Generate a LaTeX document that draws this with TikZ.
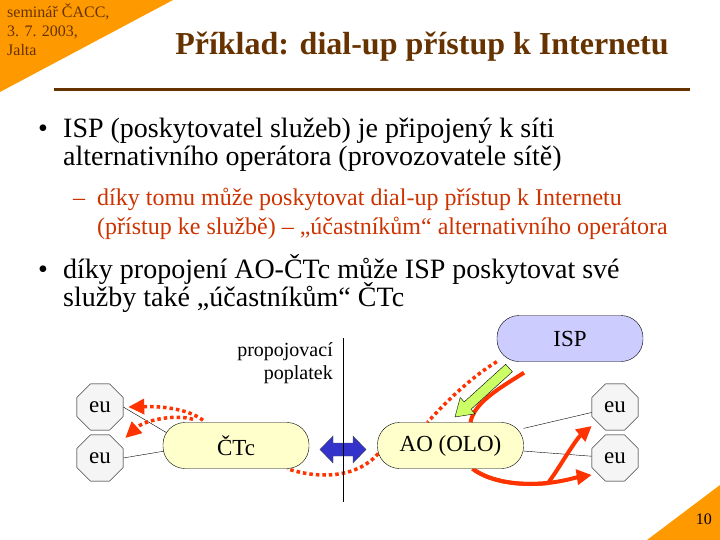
\documentclass[tikz,border=0pt]{standalone}
\usepackage{fontspec}
\setmainfont{Liberation Serif}
\usetikzlibrary{shapes.geometric, arrows.meta, backgrounds, calc}
\definecolor{slidebrown}{RGB}{102, 51, 0}
\definecolor{slideorange}{RGB}{255, 153, 0}
\definecolor{subred}{RGB}{204, 51, 0}
\definecolor{flowred}{RGB}{255, 51, 0}
\definecolor{ispblue}{RGB}{204, 204, 255}
\definecolor{netyellow}{RGB}{255, 255, 204}
\definecolor{eugray}{RGB}{245, 245, 245}
\definecolor{linkblue}{RGB}{51, 51, 204}
\definecolor{hintgreen}{RGB}{204, 255, 102}
\tikzset{
    corner/.style={font=\fontsize{16}{19}\selectfont, text=slidebrown, anchor=base west, inner sep=0},
    maintext/.style={font=\fontsize{28}{32}\selectfont, anchor=base west, inner sep=0},
    subtext/.style={font=\fontsize{24}{28}\selectfont, text=subred, anchor=base west, inner sep=0},
    pill/.style={rectangle, draw, thin, rounded corners=22pt, minimum width=146pt, minimum height=46pt, font=\fontsize{23}{26}\selectfont},
    enduser/.style={regular polygon, regular polygon sides=8, draw, thin, fill=eugray, minimum size=50pt, inner sep=0, font=\fontsize{23}{26}\selectfont},
    flowdot/.style={flowred, line width=3.5pt, dash pattern=on 3.5pt off 3pt},
    flowline/.style={flowred, line width=4pt},
    tip/.style={-{Triangle[length=15pt, width=15pt]}}
}
\begin{document}
\begin{tikzpicture}[x=1pt, y=-1pt]
    \useasboundingbox (0,0) rectangle (720,540);
    \fill[slideorange] (0,0) -- (173,0) -- (0,92) -- cycle;
    \fill[slideorange] (647,540) -- (720,485) -- (720,540) -- cycle;

    \node (place) [corner] at (7,18) {seminář ČACC,};
    \node (date) [corner] at (7,37) {3. 7. 2003,};
    \node (town) [corner] at (7,56) {Jalta};
    \node (page) [font=\fontsize{16}{19}\selectfont, anchor=base east, inner sep=0] at (712,524) {10};

    \node (title) [font=\fontsize{32}{36}\selectfont\bfseries, text=slidebrown, anchor=base, inner sep=0] at (422,55) {Příklad: dial-up přístup k Internetu};
    \draw[slidebrown, line width=3pt] (54,90) -- (690,90);

    \node (dot1) [maintext] at (38,138) {•};
    \node (isp1) [maintext] at (63,138) {ISP (poskytovatel služeb) je připojený k síti};
    \node (isp2) [maintext] at (63,166) {alternativního operátora (provozovatele sítě)};
    \node (dash1) [subtext] at (73,206) {–};
    \node (sub1) [subtext] at (97,206) {díky tomu může poskytovat dial-up přístup k Internetu};
    \node (sub2) [subtext] at (97,234) {(přístup ke službě) – „účastníkům“ alternativního operátora};
    \node (dot2) [maintext] at (38,278) {•};
    \node (link1) [maintext] at (63,278) {díky propojení AO-ČTc může ISP poskytovat své};
    \node (link2) [maintext] at (63,306) {služby také „účastníkům“ ČTc};

    \node (isp) [pill, fill=ispblue] at (570,338.5) {ISP};
    \node (ctc) [pill, fill=netyellow] at (236,445.5) {ČTc};
    \node (ao) [pill, fill=netyellow] at (450.5,445.5) {AO (OLO)};
    \node (eu1) [enduser] at (100,407) {eu};
    \node (eu2) [enduser] at (100,458) {eu};
    \node (eu3) [enduser] at (615,407) {eu};
    \node (eu4) [enduser] at (615,458) {eu};

    % interconnection between the two networks
    \filldraw[fill=linkblue, draw=black!70] (320,449.5) -- (333,436) -- (333,443) -- (353,443) -- (353,436) -- (366,449.5) -- (353,463) -- (353,456) -- (333,456) -- (333,463) -- cycle;
    \draw (343,338) -- (343,502);
    \node (fee1) [font=\fontsize{20}{23}\selectfont, anchor=base east, inner sep=0] at (333,356) {propojovací};
    \node (fee2) [font=\fontsize{20}{23}\selectfont, anchor=base east, inner sep=0] at (333,379) {poplatek};

    \filldraw[fill=hintgreen, draw=black, thin] (505.6,364.3) -- (512.4,371.7) -- (471.0,409.3) -- (475.0,413.8) -- (455,417) -- (460.2,397.5) -- (464.2,401.9) -- cycle;
    \coordinate (split) at (548,483);

    \begin{pgfonlayer}{background}
        \draw[thin] (eu1.east) -- ($(ctc.west)+(17,-5)$);
        \draw[thin] (eu2.east) -- ($(ctc.west)+(17,3)$);
        \draw[thin] (ao) -- (eu3);
        \draw[thin] (ao) -- (eu4);

        \draw[flowdot] (isp.south west) .. controls (470,378) and (445,403) .. ($(ao.north)+(-23,0)$);
        \draw[flowdot] ($(ao.west)+(1,8)$) .. controls (355,480) and (315,478) .. ($(ctc.south east)+(-22,0)$);
        \draw[flowdot, -{Triangle[length=16pt, width=15pt]}] ($(ctc.north)+(-33,-2)$) .. controls (190,410) and (165,406) .. ($(eu1.east)+(5,0)$);
        \draw[flowdot, -{Triangle[length=16pt, width=15pt]}] ($(ctc.north)+(-43,-3)$) .. controls (175,414) and (145,420) .. ($(eu2.east)+(2,-20)$);

        \draw[flowline] ($(isp.south)+(-46,11)$) .. controls (498,389) and (474,403) .. ($(ao.north)+(20,0)$);
        \draw[flowline, tip] ($(ao.south)+(22,0)$) .. controls (490,482) and (520,486) .. (split) .. controls (565,481) and (578,477) .. ($(eu4.west)+(0,17)$);
        \draw[flowline, tip] ($(ao.south)+(22,0)$) .. controls (490,482) and (520,486) .. (split) .. controls (558,470) and (575,440) .. ($(eu3.west)+(0,19)$);
    \end{pgfonlayer}
\end{tikzpicture}
\end{document}
